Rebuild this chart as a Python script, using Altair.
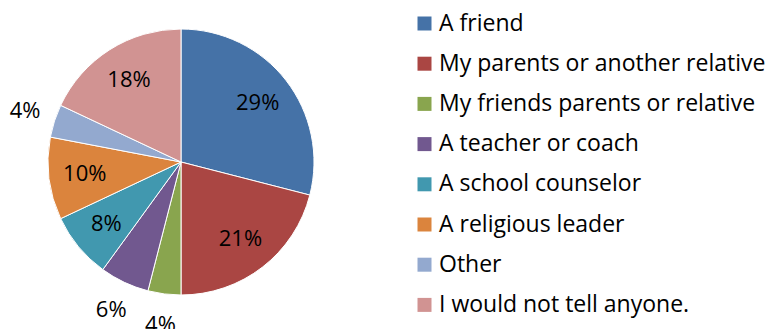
import altair as alt
import pandas as pd

categories = [
    "A friend",
    "My parents or another relative",
    "My friends parents or relative",
    "A teacher or coach",
    "A school counselor",
    "A religious leader",
    "Other",
    "I would not tell anyone.",
]
values = [29, 21, 4, 6, 8, 10, 4, 18]
colors = ["#4572A7", "#AA4643", "#89A54E", "#71588F", "#4198AF", "#DB843D", "#93A9CF", "#D19392"]

df = pd.DataFrame({
    "category": categories,
    "value": values,
    "idx": list(range(len(categories))),
})
df["label"] = [f"{v}%" for v in values]

FONT = "Open Sans"
CX, CY, R = 173, 154, 133

base = alt.Chart(df).encode(
    theta=alt.Theta("value:Q", stack=True),
    order=alt.Order("idx:O"),
)

pie = base.mark_arc(stroke="white", strokeWidth=1).encode(
    x=alt.value(CX),
    y=alt.value(CY),
    radius=alt.value(R),
    color=alt.Color(
        "category:N",
        sort=categories,
        scale=alt.Scale(domain=categories, range=colors),
        legend=alt.Legend(
            title=None,
            orient="none",
            legendX=405,
            legendY=4,
            symbolType="square",
            symbolSize=196,
            symbolStrokeWidth=0,
            labelFont=FONT,
            labelFontSize=23,
            labelColor="black",
            labelLimit=500,
            labelOffset=3,
            rowPadding=16.2,
            padding=0,
        ),
    ),
)

inside = base.transform_calculate(
    t="datum.value > 6 ? datum.label : ''"
).mark_text(font=FONT, fontSize=22, color="black").encode(
    x=alt.value(CX), y=alt.value(CY), radius=alt.value(97), text="t:N"
)

outside = base.transform_calculate(
    t="datum.value <= 6 ? datum.label : ''"
).mark_text(font=FONT, fontSize=22, color="black").encode(
    x=alt.value(CX), y=alt.value(CY), radius=alt.value(164), text="t:N"
)

chart = alt.layer(pie, inside, outside).properties(
    width=758, height=321,
    autosize=alt.AutoSizeParams(type="none"),
    padding=0,
).configure_view(stroke=None)

chart.save("out.html", embed_options={"renderer": "svg", "actions": False})
